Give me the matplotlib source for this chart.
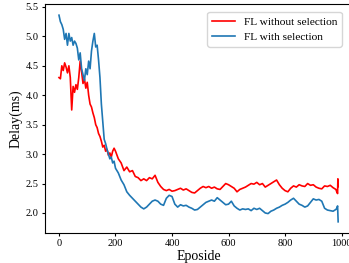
import numpy as np
import matplotlib
matplotlib.use("Agg")
import matplotlib.pyplot as plt

plt.rcParams['font.family'] = ['Liberation Serif', 'DejaVu Serif']

# episodios (passo 5 no inicio, depois passo 10)
ep_inicio = list(range(0, 200, 5))
ep_resto = list(range(200, 990, 10))

# FL sem selecao
red_inicio = [4.30, 4.28, 4.50, 4.42, 4.55, 4.48, 4.38, 4.50, 4.30, 3.75,
              4.15, 4.05, 4.18, 4.10, 4.30, 4.58, 4.40, 4.20, 4.28, 4.12,
              4.22, 4.00, 3.85, 3.80, 3.70, 3.62, 3.50, 3.45, 3.35, 3.30,
              3.22, 3.12, 3.15, 3.05, 3.08, 2.98, 3.02, 2.95, 3.05, 3.10]
red_resto = [3.05, 2.92, 2.85, 2.72, 2.78, 2.70, 2.72, 2.62, 2.60, 2.55,
             2.58, 2.55, 2.60, 2.58, 2.64, 2.52, 2.45, 2.40, 2.38, 2.40,
             2.37, 2.38, 2.40, 2.42, 2.39, 2.41, 2.38, 2.35, 2.34, 2.38,
             2.42, 2.45, 2.43, 2.45, 2.42, 2.44, 2.41, 2.40, 2.45, 2.50,
             2.48, 2.45, 2.42, 2.36, 2.40, 2.42, 2.44, 2.47, 2.50, 2.49,
             2.52, 2.48, 2.50, 2.44, 2.47, 2.50, 2.53, 2.56, 2.48, 2.42,
             2.38, 2.36, 2.42, 2.46, 2.44, 2.48, 2.46, 2.45, 2.50, 2.47,
             2.48, 2.44, 2.42, 2.41, 2.46, 2.45, 2.47, 2.43, 2.40]
red_fim_ep = [983, 986, 987, 988]
red_fim = [2.36, 2.33, 2.58, 2.45]

# FL com selecao
blue_inicio = [5.36, 5.25, 5.20, 5.12, 4.95, 5.05, 4.85, 5.05, 4.92, 4.98,
               4.85, 4.92, 4.88, 4.80, 4.60, 4.72, 4.45, 4.35, 4.25, 4.45,
               4.35, 4.58, 4.45, 4.75, 4.92, 5.05, 4.82, 4.85, 4.60, 4.30,
               3.85, 3.55, 3.25, 3.18, 3.08, 3.00, 2.92, 2.95, 2.85, 2.88]
blue_resto = [2.76, 2.68, 2.56, 2.48, 2.36, 2.30, 2.25, 2.20, 2.15, 2.10,
              2.07, 2.10, 2.15, 2.20, 2.22, 2.20, 2.15, 2.13, 2.25, 2.30,
              2.28, 2.15, 2.10, 2.14, 2.12, 2.13, 2.10, 2.08, 2.05, 2.06,
              2.10, 2.14, 2.18, 2.20, 2.22, 2.20, 2.26, 2.22, 2.18, 2.14,
              2.15, 2.20, 2.12, 2.08, 2.05, 2.07, 2.06, 2.07, 2.04, 2.08,
              2.06, 2.08, 2.04, 2.00, 1.99, 2.03, 2.05, 2.08, 2.10, 2.13,
              2.15, 2.18, 2.22, 2.25, 2.20, 2.15, 2.13, 2.10, 2.12, 2.18,
              2.24, 2.22, 2.23, 2.20, 2.08, 2.05, 2.04, 2.03, 2.06]
blue_fim_ep = [983, 986, 988]
blue_fim = [2.08, 2.12, 1.85]

ep_red = ep_inicio + ep_resto + red_fim_ep
ep_blue = ep_inicio + ep_resto + blue_fim_ep
delay_red = red_inicio + red_resto + red_fim
delay_blue = blue_inicio + blue_resto + blue_fim

fig = plt.figure(figsize=(3.49, 2.63), dpi=100)
ax = fig.add_axes([45/349, 30/263, 307/349, 229/263])

ax.plot(ep_red, delay_red, color='red', linewidth=1.2, label='FL without selection')
ax.plot(ep_blue, delay_blue, color='#1f77b4', linewidth=1.2, label='FL with selection')

ax.set_xlim(-49.5, 1037)
ax.set_ylim(1.66, 5.55)
ax.set_xticks([0, 200, 400, 600, 800, 1000])
ax.set_yticks([2.0, 2.5, 3.0, 3.5, 4.0, 4.5, 5.0, 5.5])
ax.tick_params(labelsize=7.5, length=2.5, pad=2)
ax.set_xlabel("Eposide", fontsize=10, labelpad=1)
ax.set_ylabel("Delay(ms)", fontsize=10, labelpad=2)

ax.legend(loc='upper right', fontsize=8.2, bbox_to_anchor=(0.985, 0.99),
          handlelength=2.0)

fig.savefig("out.png", dpi=100)
